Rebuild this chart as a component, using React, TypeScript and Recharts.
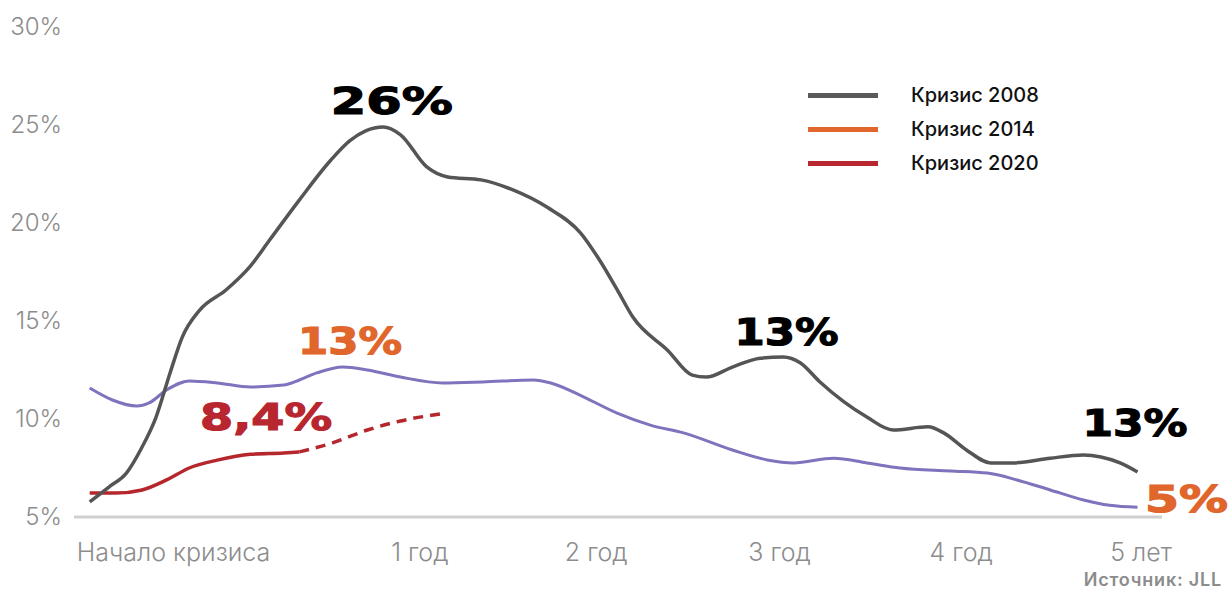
import { LineChart, Line, XAxis, YAxis, ReferenceDot } from 'recharts'

// months since crisis start -> vacancy %
const crisis2008 = [
  { m: 0, v: 5.77 }, { m: 1.1, v: 6.53 }, { m: 2.1, v: 7.24 }, { m: 3.0, v: 8.57 },
  { m: 3.8, v: 10.1 }, { m: 4.6, v: 12.35 }, { m: 5.3, v: 14.18 }, { m: 6.3, v: 15.56 },
  { m: 7.8, v: 16.58 }, { m: 9.2, v: 17.8 }, { m: 10.3, v: 19.13 }, { m: 12.0, v: 21.17 },
  { m: 13.8, v: 23.2 }, { m: 14.9, v: 24.2 }, { m: 15.8, v: 24.7 }, { m: 16.8, v: 24.9 },
  { m: 17.8, v: 24.5 }, { m: 19.3, v: 22.86 }, { m: 20.5, v: 22.35 }, { m: 22.4, v: 22.2 },
  { m: 24.2, v: 21.7 }, { m: 26.2, v: 20.8 }, { m: 28.1, v: 19.5 }, { m: 29.2, v: 18.1 },
  { m: 30.2, v: 16.6 }, { m: 31.1, v: 15.2 }, { m: 33.1, v: 13.5 }, { m: 34.5, v: 12.24 },
  { m: 35.3, v: 12.14 }, { m: 36.8, v: 12.65 }, { m: 38.4, v: 13.1 }, { m: 39.7, v: 13.16 },
  { m: 40.7, v: 12.86 }, { m: 41.8, v: 11.9 }, { m: 44.5, v: 10.1 },
  { m: 46.0, v: 9.44 }, { m: 48.0, v: 9.6 }, { m: 48.9, v: 9.29 }, { m: 50.2, v: 8.42 },
  { m: 51.6, v: 7.76 }, { m: 52.9, v: 7.76 }, { m: 55.0, v: 8.0 }, { m: 56.9, v: 8.16 },
  { m: 57.9, v: 8.06 }, { m: 59.0, v: 7.76 }, { m: 60.0, v: 7.3 },
]

const crisis2014 = [
  { m: 0, v: 11.58 }, { m: 1.3, v: 10.97 }, { m: 2.7, v: 10.66 }, { m: 3.4, v: 10.82 },
  { m: 4.4, v: 11.48 }, { m: 5.7, v: 11.94 }, { m: 7.3, v: 11.84 }, { m: 9.2, v: 11.63 },
  { m: 11.1, v: 11.73 }, { m: 12.0, v: 11.99 }, { m: 13.0, v: 12.35 }, { m: 14.5, v: 12.65 },
  { m: 15.9, v: 12.5 }, { m: 17.8, v: 12.14 }, { m: 20.2, v: 11.84 }, { m: 22.5, v: 11.89 },
  { m: 25.4, v: 11.99 }, { m: 26.4, v: 11.84 }, { m: 28.3, v: 11.12 }, { m: 30.2, v: 10.3 },
  { m: 32.1, v: 9.69 }, { m: 34.0, v: 9.29 }, { m: 36.8, v: 8.42 }, { m: 38.8, v: 7.91 },
  { m: 40.3, v: 7.76 }, { m: 42.6, v: 8.0 }, { m: 44.5, v: 7.76 }, { m: 46.4, v: 7.5 },
  { m: 49.3, v: 7.35 }, { m: 51.4, v: 7.24 }, { m: 53.1, v: 6.89 }, { m: 55.0, v: 6.38 },
  { m: 56.9, v: 5.87 }, { m: 58.4, v: 5.6 }, { m: 60.0, v: 5.5 },
]

const crisis2020Actual = [
  { m: 0, v: 6.22 }, { m: 1.5, v: 6.22 }, { m: 3.0, v: 6.38 }, { m: 4.4, v: 6.89 },
  { m: 5.7, v: 7.5 }, { m: 7.3, v: 7.9 }, { m: 9.2, v: 8.2 }, { m: 11.1, v: 8.27 },
  { m: 12.0, v: 8.32 },
]

const crisis2020Forecast = [
  { m: 12.0, v: 8.32 }, { m: 13.9, v: 8.78 }, { m: 15.9, v: 9.44 }, { m: 17.8, v: 9.9 },
  { m: 20.1, v: 10.26 },
]

const yTicks = [5, 10, 15, 20, 25, 30]
const xTicks = [4.8, 18.9, 29, 39.5, 49.9, 60.2]
const xLabels = ['Начало кризиса', '1 год', '2 год', '3 год', '4 год', '5 лет']

const legendItems = [
  { name: 'Кризис 2008', color: '#5a5a5a' },
  { name: 'Кризис 2014', color: '#e0662c' },
  { name: 'Кризис 2020', color: '#b8262f' },
]

// big callouts: text, position (month, %), colour, stretched width
const callouts = [
  { text: '26%', m: 17.3, v: 26.3, color: '#000000', w: 122 },
  { text: '13%', m: 14.9, v: 14.05, color: '#e0662c', w: 104 },
  { text: '8,4%', m: 10.1, v: 10.15, color: '#b8262f', w: 132 },
  { text: '13%', m: 39.9, v: 14.5, color: '#000000', w: 104 },
  { text: '13%', m: 59.85, v: 9.85, color: '#000000', w: 105 },
  { text: '5%', m: 62.8, v: 5.95, color: '#e0662c', w: 83 },
]

const axisFont = 'Inter, "Noto Sans", sans-serif'

function YTick({ y, payload }: any) {
  return (
    <text x={62} y={y} dy={8} textAnchor="end" fill="#8c8c8c" fontSize={24} fontWeight={300} fontFamily={axisFont}>
      {payload.value}%
    </text>
  )
}

function XTick({ x, y, payload, index }: any) {
  return (
    <text x={x} y={y} dy={36} textAnchor="middle" fill="#8c8c8c" fontSize={25} fontWeight={300} fontFamily={axisFont}>
      {xLabels[index] ?? payload.value}
    </text>
  )
}

function bigLabel(text: string, color: string, w: number) {
  return (props: any) => {
    const vb = props.viewBox || {}
    const cx = vb.x + (vb.width || 0) / 2
    const cy = vb.y + (vb.height || 0) / 2
    return (
      <text
        x={cx - w / 2}
        y={cy + 14}
        fill={color}
        stroke={color}
        strokeWidth={1.2}
        fontSize={38}
        fontWeight={900}
        fontFamily='"DejaVu Sans", sans-serif'
        textLength={w}
        lengthAdjust="spacingAndGlyphs"
      >
        {text}
      </text>
    )
  }
}

export default function App() {
  return (
    <div style={{ position: 'absolute', left: 0, top: 0, width: 1232, height: 590, background: '#fff' }}>
      <LineChart width={1232} height={590} margin={{ top: 27, right: 70, bottom: 0, left: 0 }}>
        <XAxis
          type="number"
          dataKey="m"
          domain={[-0.9, 61.4]}
          ticks={xTicks}
          tick={<XTick />}
          tickLine={false}
          axisLine={{ stroke: '#cfcfcf', strokeWidth: 3 }}
          height={73}
          allowDataOverflow
        />
        <YAxis
          type="number"
          domain={[5, 30]}
          ticks={yTicks}
          tick={<YTick />}
          tickLine={false}
          axisLine={false}
          width={74}
        />
        <Line data={crisis2014} dataKey="v" type="monotone" stroke="#7d74bd" strokeWidth={3} dot={false} isAnimationActive={false} />
        <Line data={crisis2020Actual} dataKey="v" type="monotone" stroke="#b5262d" strokeWidth={3.5} dot={false} isAnimationActive={false} />
        <Line data={crisis2020Forecast} dataKey="v" type="monotone" stroke="#b5262d" strokeWidth={3.5} strokeDasharray="10 7" dot={false} isAnimationActive={false} />
        <Line data={crisis2008} dataKey="v" type="monotone" stroke="#555555" strokeWidth={3.5} dot={false} isAnimationActive={false} />
        {callouts.map((c, i) => (
          <ReferenceDot
            key={i}
            x={c.m}
            y={c.v}
            r={0}
            fill="none"
            stroke="none"
            ifOverflow="visible"
            label={bigLabel(c.text, c.color, c.w)}
          />
        ))}
      </LineChart>
      <div style={{ position: 'absolute', left: 808, top: 78, fontFamily: axisFont }}>
        {legendItems.map((it) => (
          <div key={it.name} style={{ display: 'flex', alignItems: 'center', height: 34 }}>
            <span style={{ width: 70, height: 5, background: it.color, marginRight: 33 }} />
            <span style={{ fontSize: 20, fontWeight: 500, color: '#111' }}>{it.name}</span>
          </div>
        ))}
      </div>
      <div
        style={{
          position: 'absolute',
          right: 10,
          top: 569,
          fontFamily: axisFont,
          fontSize: 18,
          fontWeight: 600,
          letterSpacing: 0.8,
          color: '#8c8c8c',
        }}
      >
        Источник: JLL
      </div>
    </div>
  )
}
